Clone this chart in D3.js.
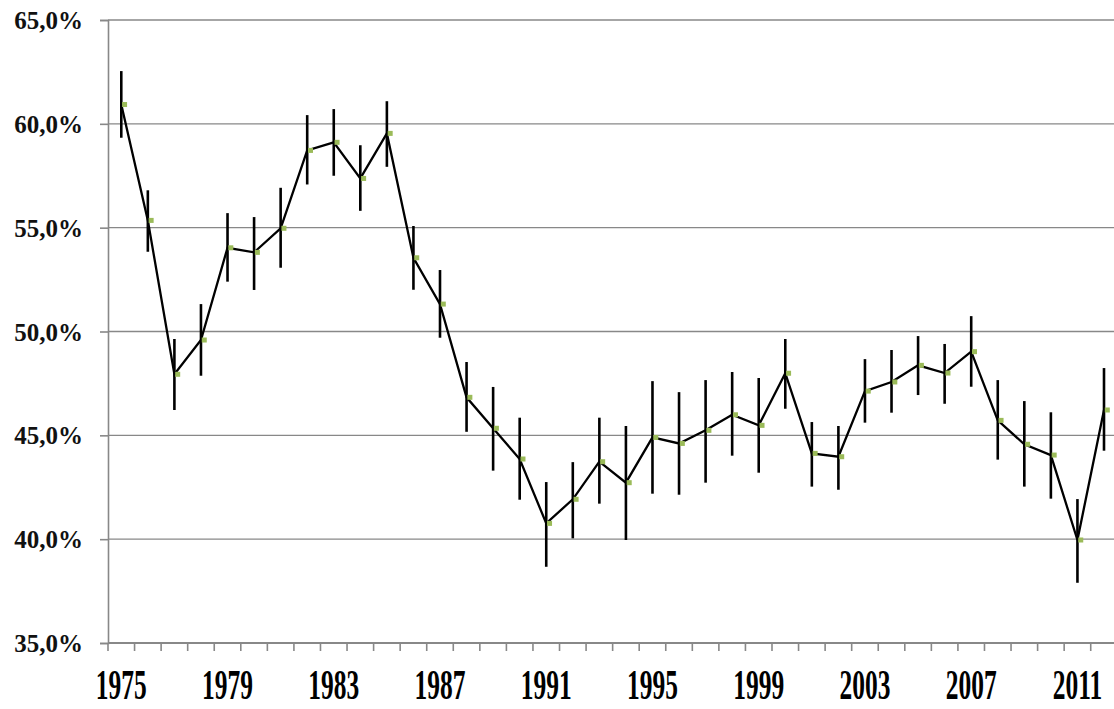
<!DOCTYPE html>
<html>
<head>
<meta charset="utf-8">
<script src="https://cdn.jsdelivr.net/npm/d3@7"></script>
<style>
  html, body { margin: 0; padding: 0; background: #fff; }
  svg { display: block; }
  .lbl { font-family: "Liberation Serif", "Times New Roman", serif; font-weight: bold; }
</style>
</head>
<body>
<svg id="chart" width="1114" height="709"></svg>
<script>
const years = [1975,1976,1977,1978,1979,1980,1981,1982,1983,1984,1985,1986,1987,1988,1989,1990,1991,1992,1993,1994,1995,1996,1997,1998,1999,2000,2001,2002,2003,2004,2005,2006,2007,2008,2009,2010,2011,2012];
const values = [60.93,55.35,47.94,49.59,54.03,53.81,54.97,58.72,59.11,57.37,59.54,53.55,51.32,46.83,45.34,43.86,40.76,41.92,43.73,42.72,44.90,44.61,45.24,45.99,45.48,47.99,44.13,43.97,47.13,47.57,48.37,48.00,49.03,45.72,44.57,44.05,39.96,46.22];
const upper  = [62.54,56.80,49.64,51.32,55.70,55.51,56.92,60.42,60.71,58.97,61.09,55.08,52.96,48.53,47.33,45.85,42.75,43.71,45.85,45.45,47.61,47.08,47.66,48.05,47.76,49.64,45.64,45.45,48.67,49.11,49.78,49.40,50.74,47.66,46.65,46.11,41.93,48.24];
const lower  = [59.33,53.84,46.22,47.87,52.40,52.00,53.07,57.08,57.50,55.81,57.93,52.01,49.70,45.17,43.30,41.90,38.67,40.04,41.71,39.96,42.19,42.14,42.72,44.02,43.20,46.28,42.53,42.38,45.61,46.09,46.94,46.52,47.34,43.83,42.53,41.95,37.90,44.26];
const yTicks = [35,40,45,50,55,60,65];
const xLabelYears = [1975,1979,1983,1987,1991,1995,1999,2003,2007,2011];

const svg = d3.select("#chart");
const mLeft = 108, mTop = 20, mBottom = 643;
const band = 26.56;

const x = d3.scaleBand().domain(years).range([mLeft, mLeft + band * years.length]).padding(0);
const y = d3.scaleLinear().domain([35, 65]).range([mBottom, mTop]);
const cx = d => x(d) + x.bandwidth() / 2;

// gridlines
svg.append("g").selectAll("line").data(yTicks.filter(t => t > 35)).join("line")
  .attr("x1", mLeft).attr("x2", 1114)
  .attr("y1", d => y(d)).attr("y2", d => y(d))
  .attr("stroke", "#888").attr("stroke-width", 1.4);

// y axis
const yAxis = d3.axisLeft(y).tickValues(yTicks).tickSize(8).tickPadding(17)
  .tickFormat(d => d3.format(".1f")(d).replace(".", ",") + "%");
const gy = svg.append("g").attr("transform", `translate(${mLeft},0)`).call(yAxis)
  .attr("font-family", null);
gy.select(".domain").attr("stroke", "#888").attr("stroke-width", 1.6);
gy.selectAll(".tick line").attr("stroke", "#888").attr("stroke-width", 1.6);
gy.selectAll(".tick text")
  .attr("class", "lbl")
  .style("font-size", "25px").attr("fill", "#111")
  .attr("dy", "0.34em");

// x axis line + boundary ticks
svg.append("line").attr("x1", mLeft).attr("x2", 1114).attr("y1", mBottom).attr("y2", mBottom)
  .attr("stroke", "#888").attr("stroke-width", 2);
const bounds = years.map(d => x(d)).concat([x(years[years.length - 1]) + x.bandwidth()]);
svg.append("g").selectAll("line").data(bounds).join("line")
  .attr("x1", d => d).attr("x2", d => d).attr("y1", mBottom).attr("y2", mBottom + 8)
  .attr("stroke", "#888").attr("stroke-width", 1.6);

// x labels (vertically stretched like the original)
svg.append("g").selectAll("g").data(xLabelYears).join("g")
  .attr("transform", d => `translate(${cx(d)},699) scale(1.06,1.8)`)
  .append("text")
  .attr("class", "lbl")
  .attr("text-anchor", "middle")
  .style("font-size", "24px").attr("fill", "#000")
  .text(d => d);

// error bars
svg.append("g").selectAll("line").data(years).join("line")
  .attr("x1", d => cx(d)).attr("x2", d => cx(d))
  .attr("y1", (d, i) => y(upper[i])).attr("y2", (d, i) => y(lower[i]))
  .attr("stroke", "#000").attr("stroke-width", 2.6);

// line
const line = d3.line().x((d, i) => cx(years[i])).y(d => y(d));
svg.append("path").datum(values).attr("d", line)
  .attr("fill", "none").attr("stroke", "#000").attr("stroke-width", 2.3)
  .attr("stroke-linejoin", "miter");

// markers
svg.append("g").selectAll("rect").data(values).join("rect")
  .attr("x", (d, i) => cx(years[i]) + 0.8).attr("y", d => y(d) - 2.5)
  .attr("width", 5).attr("height", 5)
  .attr("fill", "#9bbb59");
</script>
</body>
</html>
